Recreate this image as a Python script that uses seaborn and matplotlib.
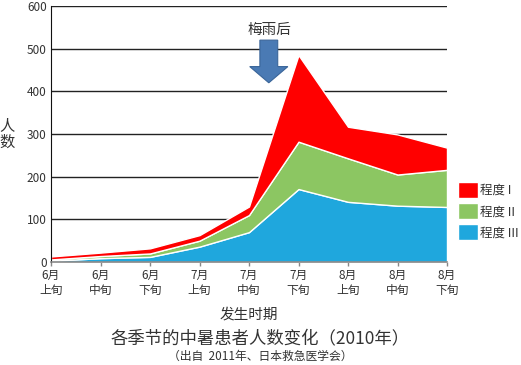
import numpy as np
import pandas as pd
import matplotlib
matplotlib.use("Agg")
import matplotlib.pyplot as plt
from matplotlib.patches import FancyArrow
import seaborn as sns

# data (stacked: III bottom, II middle, I top)
periods = ["6月\n上旬", "6月\n中旬", "6月\n下旬", "7月\n上旬", "7月\n中旬",
           "7月\n下旬", "8月\n上旬", "8月\n中旬", "8月\n下旬"]
level3 = [3, 9, 12, 36, 70, 171, 141, 132, 129]
level2 = [3, 5, 8, 14, 40, 111, 102, 73, 87]
level1 = [7, 8, 12, 13, 20, 203, 74, 94, 52]
colors = {"程度 I": "#ff0000", "程度 II": "#8cc662", "程度 III": "#1fa7dd"}

df = pd.DataFrame({"period": periods, "程度 III": level3,
                   "程度 II": level2, "程度 I": level1})

sns.set_style("white")
plt.rcParams["font.family"] = ["Noto Sans CJK SC", "DejaVu Sans"]
txt = "#333333"

fig = plt.figure(figsize=(5.21, 3.65), dpi=100)
ax = fig.add_axes([51 / 521, 1 - 262 / 365, 396 / 521, 256 / 365])

x = np.arange(len(periods))
ax.stackplot(x, df["程度 III"], df["程度 II"], df["程度 I"],
             colors=[colors["程度 III"], colors["程度 II"], colors["程度 I"]],
             labels=["程度 III", "程度 II", "程度 I"], zorder=2)

ax.set_xlim(0, 8)
ax.set_ylim(0, 600)
ax.set_yticks(range(0, 601, 100))
ax.yaxis.grid(True, color="#222222", linewidth=1.0, zorder=0)
ax.set_axisbelow(True)
ax.set_xticks(x)
ax.set_xticklabels(periods, fontsize=8.5, color=txt, linespacing=1.25)
ax.tick_params(axis="y", labelsize=8.5, labelcolor=txt, length=0, pad=3)
ax.tick_params(axis="x", length=3, color="#888888", width=1, bottom=True, pad=2)
for s in ["top", "right"]:
    ax.spines[s].set_visible(False)
ax.spines["left"].set_color("#111111")
ax.spines["bottom"].set_color("#888888")
ax.spines["bottom"].set_linewidth(1.2)

ax.set_xlabel("发生时期", fontsize=10.5, color=txt, labelpad=7)
ax.set_ylabel("人\n数", fontsize=11, color=txt, rotation=0, linespacing=0.95,
              va="center", labelpad=12)
ax.yaxis.set_label_coords(-0.11, 0.5)

# rainy season arrow
ax.text(4.42, 544, "梅雨后", fontsize=10.5, color=txt, ha="center", va="center")
ax.add_patch(FancyArrow(4.4, 520, 0, -100, width=0.36, head_width=0.77,
                        head_length=38, length_includes_head=True,
                        facecolor="#4a7ab4", edgecolor="#3a6599",
                        linewidth=0.8, zorder=5))

handles, labels = ax.get_legend_handles_labels()
fig.legend(handles[::-1], labels[::-1], loc="upper left",
           bbox_to_anchor=(458 / 521, 1 - 182 / 365), frameon=False,
           fontsize=9, handlelength=1.6, handleheight=1.6,
           handletextpad=0.2, labelspacing=0.4, labelcolor=txt,
           borderaxespad=0, borderpad=0)

fig.text(0.5, 1 - 338 / 365, "各季节的中暑患者人数变化（2010年）", fontsize=12.5,
         color=txt, ha="center", va="center")
fig.text(0.5, 1 - 356 / 365, "（出自  2011年、日本救急医学会）", fontsize=8.5,
         color=txt, ha="center", va="center")

fig.savefig("out.png", dpi=100)
